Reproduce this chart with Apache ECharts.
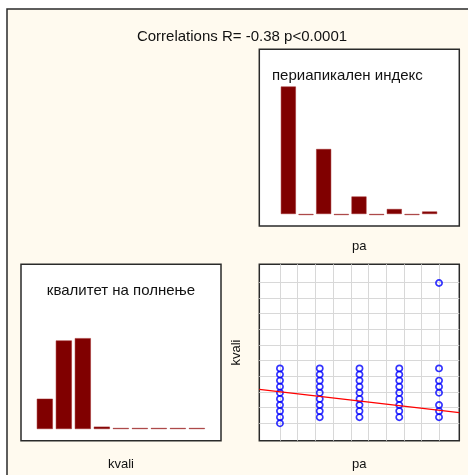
<!DOCTYPE html>
<html>
<head>
<meta charset="utf-8">
<script src="https://cdn.jsdelivr.net/npm/echarts@6/dist/echarts.min.js"></script>
<style>
  html, body { margin: 0; padding: 0; background: #ffffff; }
  #chart { width: 468px; height: 475px; }
</style>
</head>
<body>
<div id="chart"></div>
<script>
// Histogram bins (9 bins per variable)
const binIndex = [1, 2, 3, 4, 5, 6, 7, 8, 9];
const paCounts = [51, 0, 26, 0, 7, 0, 2, 0, 1];
const kvaliCounts = [13, 38, 39, 1, 0, 0, 0, 0, 0];

// Scatter observations: pa (x) vs kvali (y)
const paValues = [
  1, 1, 1, 1, 1, 1, 1, 1, 1, 1,
  2, 2, 2, 2, 2, 2, 2, 2, 2,
  3, 3, 3, 3, 3, 3, 3, 3, 3,
  4, 4, 4, 4, 4, 4, 4, 4, 4,
  5, 5, 5, 5, 5, 5, 5, 5
];
const kvaliValues = [
  1, 2, 3, 4, 5, 6, 7, 8, 9, 10,
  2, 3, 4, 5, 6, 7, 8, 9, 10,
  2, 3, 4, 5, 6, 7, 8, 9, 10,
  2, 3, 4, 5, 6, 7, 8, 9, 10,
  2, 3, 4, 6, 7, 8, 10, 24
];

// Least-squares fit line end points
const fitX = [0.48, 5.51];
const fitY = [6.57, 2.74];

const titleText = 'Correlations R= -0.38 p<0.0001';
const paTitle = 'периапикален индекс';
const kvaliTitle = 'квалитет на полнење';

const histData = (counts) => binIndex.map((b, i) => [b, counts[i]]);
const scatterData = paValues.map((p, i) => [p, kvaliValues[i]]);
const fitData = fitX.map((x, i) => [x, fitY[i]]);

const FONT = 'Liberation Sans, Arial, sans-serif';
const boxStyle = { show: true, backgroundColor: '#ffffff', borderColor: '#2a2a2a', borderWidth: 1.5 };
const hidden = { axisLine: { show: false }, axisTick: { show: false }, axisLabel: { show: false }, splitLine: { show: false } };
const nameStyle = { fontFamily: FONT, fontSize: 13, color: '#111' };
const gridLine = {
  show: true, showMinLine: false, showMaxLine: false,
  lineStyle: { color: '#d8d8d8', width: 1 }
};

const chart = echarts.init(document.getElementById('chart'), null, { renderer: 'canvas' });
chart.setOption({
  backgroundColor: '#ffffff',
  animation: false,
  graphic: {
    elements: [{
      type: 'rect', z: -100, silent: true,
      shape: { x: 7, y: 9, width: 480, height: 480 },
      style: { fill: '#FFFAEF', stroke: '#2a2a2a', lineWidth: 1.5 }
    }]
  },
  title: [
    { text: titleText, left: 237, top: 24, textAlign: 'center',
      textStyle: { fontFamily: FONT, fontSize: 15, fontWeight: 'normal', color: '#111' } },
    { text: paTitle, left: 272, top: 68, padding: 0,
      textStyle: { fontFamily: FONT, fontSize: 15, fontWeight: 'normal', color: '#111' } },
    { text: kvaliTitle, left: 121, top: 283, padding: 0, textAlign: 'center',
      textStyle: { fontFamily: FONT, fontSize: 15, fontWeight: 'normal', color: '#111' } }
  ],
  grid: [
    Object.assign({ left: 259.3, top: 49.3, width: 200, height: 176.7 }, boxStyle),
    Object.assign({ left: 21, top: 264.3, width: 200, height: 176.4 }, boxStyle),
    Object.assign({ left: 259.3, top: 264.3, width: 200, height: 176.4 }, boxStyle),
    { left: 262.3, top: 264.3, width: 194.7, height: 176.4, show: false },
    { left: 259.3, top: 266.63, width: 200, height: 172.4, show: false }
  ],
  xAxis: [
    Object.assign({ type: 'value', gridIndex: 0, min: -0.645, max: 10.68,
      name: 'pa', nameLocation: 'middle', nameGap: 14, nameTextStyle: nameStyle }, hidden),
    Object.assign({ type: 'value', gridIndex: 1, min: -0.253, max: 10.27,
      name: 'kvali', nameLocation: 'middle', nameGap: 17, nameTextStyle: nameStyle }, hidden),
    Object.assign({ type: 'value', gridIndex: 2, min: 0.48, max: 5.51,
      name: 'pa', nameLocation: 'middle', nameGap: 17, nameTextStyle: nameStyle }, hidden),
    Object.assign({}, hidden, { type: 'value', gridIndex: 3, min: 0, max: 11, interval: 1, splitLine: gridLine }),
    Object.assign({ type: 'value', gridIndex: 4, min: 0, max: 1 }, hidden)
  ],
  yAxis: [
    Object.assign({ type: 'value', gridIndex: 0, min: -4.8, max: 65.9 }, hidden),
    Object.assign({ type: 'value', gridIndex: 1, min: -5.02, max: 70.7 }, hidden),
    Object.assign({ type: 'value', gridIndex: 2, min: -1.852, max: 27.07,
      name: 'kvali', nameLocation: 'middle', nameGap: 16, nameRotate: 90, nameTextStyle: nameStyle }, hidden),
    Object.assign({ type: 'value', gridIndex: 3, min: 0, max: 1 }, hidden),
    Object.assign({}, hidden, { type: 'value', gridIndex: 4, min: 0, max: 11, interval: 1, splitLine: gridLine })
  ],
  series: [
    { type: 'bar', xAxisIndex: 0, yAxisIndex: 0, data: histData(paCounts),
      barWidth: 15, barMinHeight: 1,
      itemStyle: { color: '#800000', borderColor: '#a02828', borderWidth: 0.5 } },
    { type: 'bar', xAxisIndex: 1, yAxisIndex: 1, data: histData(kvaliCounts),
      barWidth: 16, barMinHeight: 1,
      itemStyle: { color: '#800000', borderColor: '#a02828', borderWidth: 0.5 } },
    { type: 'scatter', xAxisIndex: 2, yAxisIndex: 2, data: scatterData, z: 4,
      symbol: 'circle', symbolSize: 6.2,
      itemStyle: { color: 'rgba(0,0,0,0)', borderColor: '#0000ff', borderWidth: 1.7 } },
    { type: 'line', xAxisIndex: 2, yAxisIndex: 2, data: fitData, z: 5,
      symbol: 'none', lineStyle: { color: '#ff0000', width: 1.3 } }
  ]
});
</script>
</body>
</html>
